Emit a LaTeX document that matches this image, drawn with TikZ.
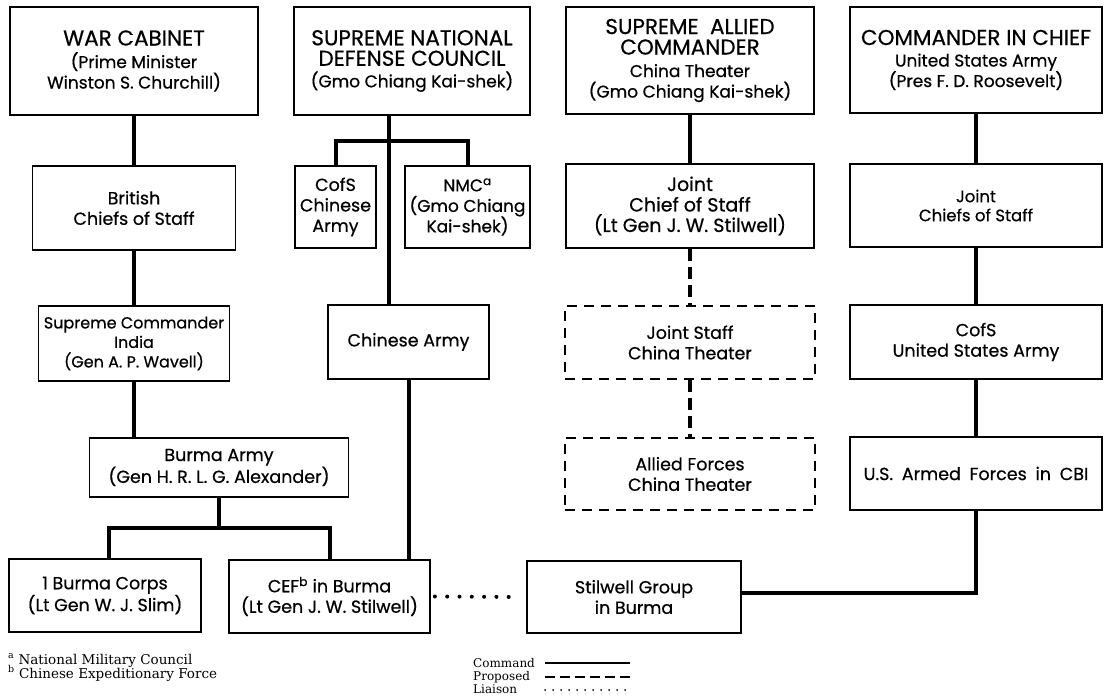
\documentclass[tikz,border=0pt]{standalone}
\usepackage{fontspec}
\setmainfont{Poppins}[FakeBold=0.6]
\newfontfamily\notefont{DejaVu Serif}
\newcommand\myhd{\fontsize{21.5}{23}\selectfont}
\newcommand\mysb{\fontsize{17}{20}\selectfont}
\begin{document}
\begin{tikzpicture}[x=1pt,y=-1pt,
  box/.style={draw, line width=1.8pt, inner sep=0pt, align=center, font=\fontsize{17.5}{20.5}\selectfont},
  pbox/.style={box, dash pattern=on 10pt off 7pt, line width=2.2pt},
  cmd/.style={line width=4pt},
  prop/.style={line width=4pt, dash pattern=on 12pt off 6pt},
  liai/.style={line width=4pt, line cap=round, dash pattern=on 0pt off 12.3pt},
  note/.style={inner sep=0pt, font=\notefont\fontsize{13.5}{14}\selectfont},
  legt/.style={inner sep=0pt, font=\notefont\fontsize{12}{13}\selectfont},
  leg/.style={line width=1.4pt}
]
\useasboundingbox (0,0) rectangle (1104,700);
% row 1
\node[box, minimum width=248pt, minimum height=108pt] (wc) at (134,61)
  {\myhd WAR CABINET\\[2pt]\mysb (Prime Minister\\\mysb Winston S. Churchill)};
\node[box, minimum width=236pt, minimum height=108pt] (sndc) at (412,61)
  {\myhd SUPREME NATIONAL\\\myhd DEFENSE COUNCIL\\[1pt]\mysb (Gmo Chiang Kai-shek)};
\node[box, minimum width=248pt, minimum height=107pt] (sac) at (690,60.5)
  {\myhd SUPREME\ \ ALLIED\\\myhd COMMANDER\\[2pt]\mysb China Theater\\\mysb (Gmo Chiang Kai-shek)};
\node[box, minimum width=252pt, minimum height=106pt] (cinc) at (976,60)
  {\myhd COMMANDER IN CHIEF\\[1pt]\mysb United States Army\\\mysb (Pres F. D. Roosevelt)};
% row 2
\node[box, minimum width=203pt, minimum height=84pt] (bcos) at (134,208)
  {British\\Chiefs of Staff};
\node[box, minimum width=81pt, minimum height=82pt] (cofsca) at (335.5,207)
  {CofS\\Chinese\\Army};
\node[box, minimum width=125pt, minimum height=82pt, font=\fontsize{17}{20.5}\selectfont] (nmc) at (467.5,207)
  {NMC\textsuperscript{a}\\(Gmo Chiang\\Kai-shek)};
\node[box, minimum width=248pt, minimum height=84pt, font=\fontsize{19}{20.5}\selectfont] (jcos) at (690,206)
  {Joint\\Chief of Staff\\(Lt Gen J. W. Stilwell)};
\node[box, minimum width=252pt, minimum height=83pt, font=\fontsize{16.5}{19}\selectfont] (jcs) at (976,205.5)
  {Joint\\Chiefs of Staff};
% row 3
\node[box, minimum width=191pt, minimum height=75pt, font=\fontsize{16}{19.5}\selectfont] (sci) at (134,343.5)
  {Supreme Commander\\India\\(Gen A. P. Wavell)};
\node[box, minimum width=161pt, minimum height=74pt] (ca) at (408.5,342)
  {Chinese Army};
\node[pbox, minimum width=250pt, minimum height=73pt] (jsct) at (690,342.5)
  {Joint Staff\\China Theater};
\node[box, minimum width=252pt, minimum height=74pt] (cofsus) at (976,342)
  {CofS\\United States Army};
% row 4
\node[box, minimum width=259pt, minimum height=59pt] (ba) at (219,467.5)
  {Burma Army\\(Gen H. R. L. G. Alexander)};
\node[pbox, minimum width=250pt, minimum height=72pt] (afct) at (690,474)
  {Allied Forces\\China Theater};
\node[box, minimum width=252pt, minimum height=73pt] (usaf) at (976,473.5)
  {U.S.\hspace{0.5em}Armed\hspace{0.5em}Forces\hspace{0.5em}in\hspace{0.5em}CBI};
% row 5
\node[box, minimum width=192pt, minimum height=73pt] (bc1) at (105,595.5)
  {1 Burma Corps\\(Lt Gen W. J. Slim)};
\node[box, minimum width=201pt, minimum height=73pt] (cef) at (329.5,596.5)
  {CEF\textsuperscript{b} in Burma\\(Lt Gen J. W. Stilwell)};
\node[box, minimum width=214pt, minimum height=72pt] (sg) at (634,597)
  {Stilwell Group\\in Burma};
% connectors: British column
\draw[cmd] (wc.south) -- (bcos.north);
\draw[cmd] (bcos.south) -- (sci.north);
\draw[cmd] (sci.south) -- (ba.north -| sci.south);
\coordinate (babar) at (219,528);
\draw[cmd] (ba.south) -- (babar);
\draw[cmd] ([xshift=4pt]bc1.north) |- (babar) -| (cef.north);
% Chinese column
\draw[cmd] ([xshift=-23pt]sndc.south) -- ([xshift=-23pt]sndc.south |- ca.north);
\draw[cmd] (cofsca.north) -- ++(0,-24) -| (nmc.north);
\draw[cmd] (ca.south) -- (ca.south |- cef.north);
% Allied column
\draw[cmd] (sac.south) -- (jcos.north);
\draw[prop] (jcos.south) -- (jsct.north);
\draw[prop] (jsct.south) -- (afct.north);
% US column
\draw[cmd] (cinc.south) -- (jcs.north);
\draw[cmd] (jcs.south) -- (cofsus.north);
\draw[cmd] (cofsus.south) -- (usaf.north);
\draw[cmd] (usaf.south) |- ([yshift=4pt]sg.east);
% liaison
\draw[liai] ([xshift=4pt]cef.east) -- ([xshift=-8pt]sg.west);
% footnotes
\node[note, anchor=base west] (fa) at (8,664) {\textsuperscript{a} National Military Council};
\node[note, anchor=base west] (fb) at (8,678) {\textsuperscript{b} Chinese Expeditionary Force};
% legend
\node[legt, anchor=base west] (lc) at (473,667) {Command};
\node[legt, anchor=base west] (lp) at (473,680) {Proposed};
\node[legt, anchor=base west] (ll) at (473,693) {Liaison};
\draw[leg] (545,663) -- (630,663);
\draw[leg, dash pattern=on 10pt off 5pt] (545,677) -- (630,677);
\draw[leg, line width=2pt, line cap=round, dash pattern=on 0pt off 8pt] (545,690) -- (630,690);
\end{tikzpicture}
\end{document}
